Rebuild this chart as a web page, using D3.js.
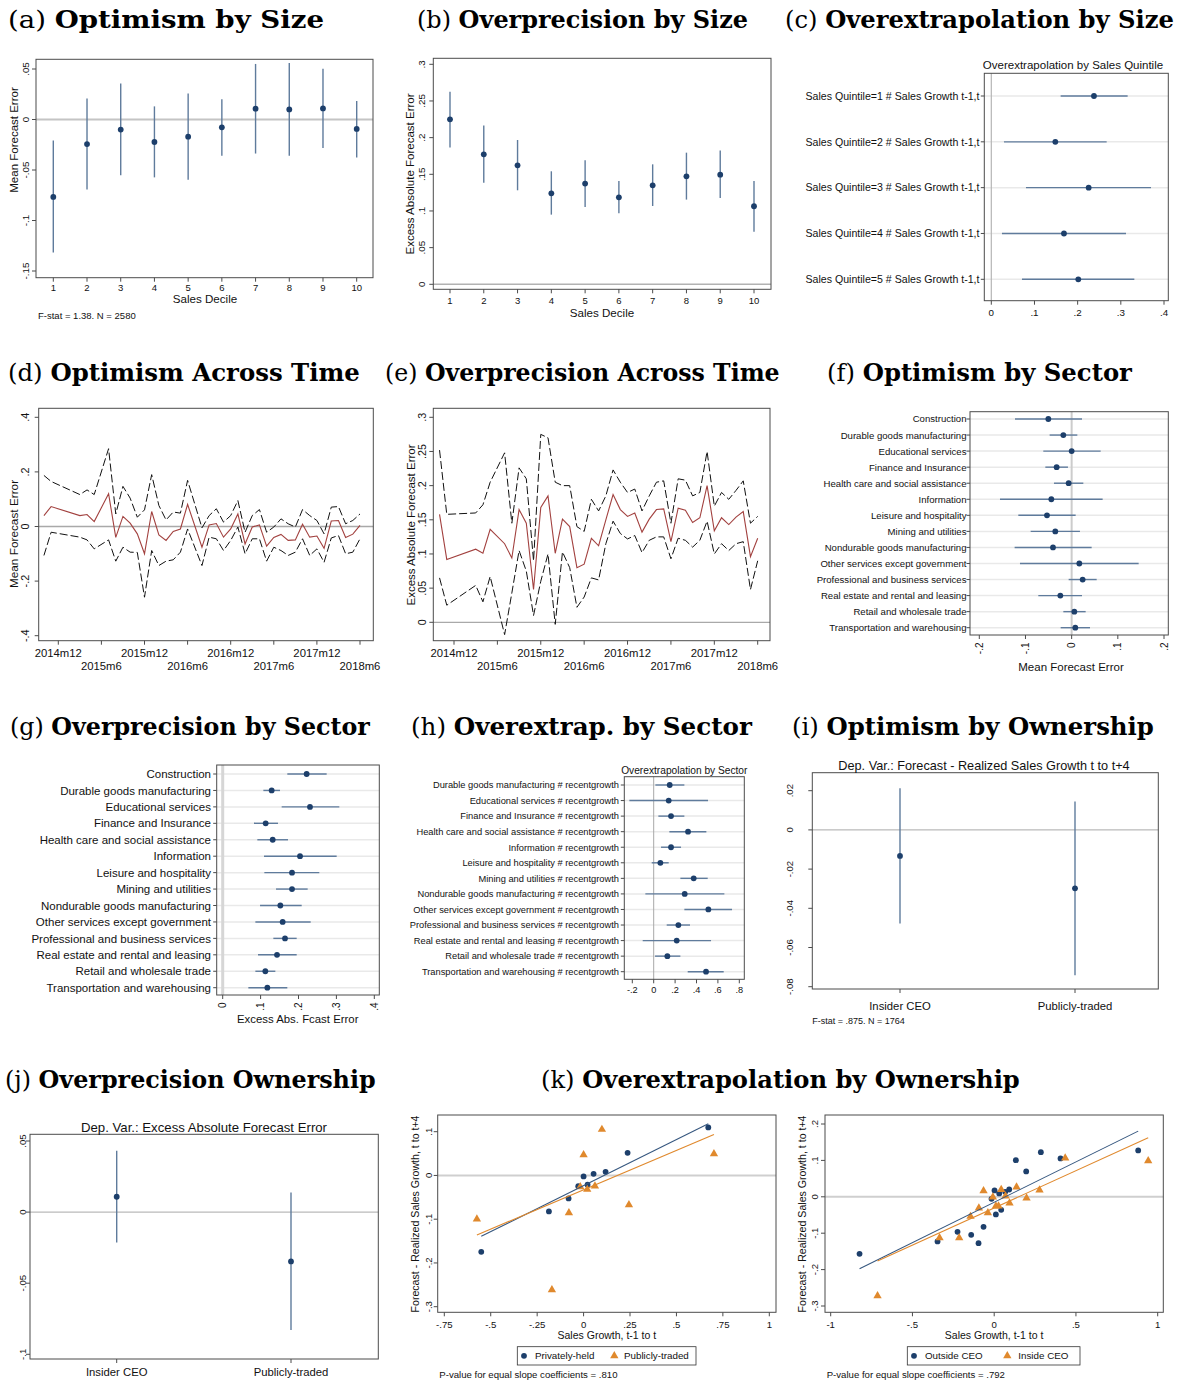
<!DOCTYPE html>
<html>
<head>
<meta charset="utf-8">
<script src="https://cdn.jsdelivr.net/npm/d3@7"></script>
<style>
  html, body { margin: 0; padding: 0; background: #fff; }
  svg { display: block; }
  text { font-family: "Liberation Sans", Arial, Helvetica, sans-serif; fill: #111; }
  .ttl { font-family: "DejaVu Serif", serif; fill: #000; }
</style>
</head>
<body>
<script>
// ---------- (a) optimism by sales decile ----------
const deciles = [1, 2, 3, 4, 5, 6, 7, 8, 9, 10];
const optSizeMean = [-0.0767, -0.0243, -0.0100, -0.0223, -0.0170, -0.0077, 0.0107, 0.0100, 0.0110, -0.0093];
const optSizeLo   = [-0.1317, -0.0693, -0.0553, -0.0573, -0.0597, -0.0360, -0.0337, -0.0360, -0.0283, -0.0377];
const optSizeHi   = [-0.0207, 0.0207, 0.0357, 0.0130, 0.0257, 0.0200, 0.0550, 0.0560, 0.0503, 0.0183];
const optSizeTicks = [0.05, 0, -0.05, -0.1, -0.15];
const optSizeTickLabels = [".05", "0", "-.05", "-.1", "-.15"];

// ---------- (b) overprecision by sales decile ----------
const precSizeMean = [0.2250, 0.1773, 0.1623, 0.1241, 0.1373, 0.1186, 0.1350, 0.1473, 0.1495, 0.1064];
const precSizeLo   = [0.1864, 0.1386, 0.1282, 0.0950, 0.1055, 0.0968, 0.1068, 0.1155, 0.1177, 0.0718];
const precSizeHi   = [0.2627, 0.2164, 0.1968, 0.1541, 0.1691, 0.1409, 0.1636, 0.1795, 0.1823, 0.1409];
const precSizeTicks = [0, 0.05, 0.1, 0.15, 0.2, 0.25, 0.3];
const precSizeTickLabels = ["0", ".05", ".1", ".15", ".2", ".25", ".3"];

// ---------- (c) overextrapolation by sales quintile ----------
const quintileRows = [
  "Sales Quintile=1 # Sales Growth t-1,t",
  "Sales Quintile=2 # Sales Growth t-1,t",
  "Sales Quintile=3 # Sales Growth t-1,t",
  "Sales Quintile=4 # Sales Growth t-1,t",
  "Sales Quintile=5 # Sales Growth t-1,t"
];
const quintileCoef = [0.2378, 0.1483, 0.2255, 0.1683, 0.2015];
const quintileLo   = [0.1606, 0.0293, 0.0803, 0.0247, 0.0710];
const quintileHi   = [0.3158, 0.2672, 0.3699, 0.3120, 0.3313];
const quintileTicks = [0, 0.1, 0.2, 0.3, 0.4];
const quintileTickLabels = ["0", ".1", ".2", ".3", ".4"];

// ---------- (d) optimism across time ----------
const timeTicks = ["2014m12", "2015m6", "2015m12", "2016m6", "2016m12", "2017m6", "2017m12", "2018m6"];
const optTimeMonths = ["2014m10", "2014m11", "2015m3", "2015m4", "2015m5", "2015m7", "2015m8", "2015m9", "2015m10",
  "2015m11", "2015m12", "2016m1", "2016m2", "2016m3", "2016m4", "2016m5", "2016m6", "2016m8", "2016m9", "2016m10",
  "2016m11", "2016m12", "2017m1", "2017m2", "2017m3", "2017m4", "2017m5", "2017m6", "2017m7", "2017m8", "2017m9",
  "2017m10", "2017m11", "2017m12", "2018m1", "2018m2", "2018m3", "2018m4", "2018m5", "2018m6"];
const optTimeMean = [0.040, 0.073, 0.040, 0.044, 0.018, 0.120, -0.040, 0.037, 0.012, -0.027, -0.100, 0.055, -0.031,
  -0.051, -0.018, -0.009, 0.081, -0.076, 0.006, 0.011, -0.039, -0.009, 0.046, -0.064, -0.002, 0.006, -0.072, -0.040,
  -0.029, -0.051, -0.049, 0.008, -0.039, -0.035, -0.080, 0.020, 0.022, -0.040, -0.028, 0.004];
const optTimeUpper = [0.187, 0.165, 0.117, 0.134, 0.117, 0.285, 0.046, 0.147, 0.104, 0.034, 0.061, 0.190, 0.077,
  0.024, 0.053, 0.049, 0.169, -0.005, 0.040, 0.065, 0.016, 0.040, 0.095, -0.021, 0.040, 0.062, -0.021, -0.002,
  0.028, 0.010, -0.002, 0.062, 0.040, 0.022, -0.027, 0.071, 0.073, 0.010, 0.022, 0.046];
const optTimeLower = [-0.106, -0.021, -0.039, -0.049, -0.082, -0.049, -0.127, -0.076, -0.094, -0.095, -0.259, -0.088,
  -0.143, -0.127, -0.122, -0.094, -0.009, -0.143, -0.039, -0.045, -0.088, -0.051, -0.002, -0.100, -0.045, -0.045,
  -0.127, -0.076, -0.088, -0.106, -0.094, -0.045, -0.106, -0.082, -0.131, -0.042, -0.033, -0.100, -0.094, -0.045];
const optTimeTicks = [-0.4, -0.2, 0, 0.2, 0.4];
const optTimeTickLabels = ["-.4", "-.2", "0", ".2", ".4"];

// ---------- (e) overprecision across time ----------
const precTimeMonths = ["2014m10", "2014m11", "2015m3", "2015m4", "2015m5", "2015m7", "2015m8", "2015m9", "2015m10",
  "2015m11", "2015m12", "2016m1", "2016m2", "2016m3", "2016m4", "2016m5", "2016m6", "2016m7", "2016m8", "2016m9",
  "2016m10", "2016m11", "2016m12", "2017m1", "2017m2", "2017m3", "2017m4", "2017m5", "2017m6", "2017m7", "2017m8",
  "2017m9", "2017m10", "2017m11", "2017m12", "2018m1", "2018m2", "2018m3", "2018m4", "2018m5", "2018m6"];
const precTimeMean = [0.158, 0.092, 0.107, 0.101, 0.136, 0.115, 0.094, 0.165, 0.145, 0.048, 0.168, 0.185, 0.101,
  0.151, 0.140, 0.080, 0.085, 0.123, 0.112, 0.150, 0.187, 0.165, 0.155, 0.160, 0.132, 0.151, 0.165, 0.166, 0.118,
  0.167, 0.164, 0.146, 0.153, 0.200, 0.134, 0.153, 0.143, 0.154, 0.162, 0.096, 0.123];
const precTimeUpper = [0.252, 0.158, 0.160, 0.172, 0.205, 0.248, 0.145, 0.226, 0.210, 0.090, 0.275, 0.270, 0.205,
  0.200, 0.200, 0.140, 0.133, 0.180, 0.163, 0.185, 0.223, 0.205, 0.190, 0.195, 0.163, 0.185, 0.205, 0.207, 0.145,
  0.210, 0.208, 0.185, 0.190, 0.250, 0.170, 0.190, 0.180, 0.193, 0.207, 0.145, 0.155];
const precTimeLower = [0.065, 0.025, 0.054, 0.030, 0.067, -0.018, 0.043, 0.105, 0.075, 0.010, 0.060, 0.100, -0.003,
  0.103, 0.080, 0.022, 0.037, 0.065, 0.062, 0.115, 0.148, 0.130, 0.122, 0.127, 0.102, 0.120, 0.125, 0.125, 0.093,
  0.123, 0.120, 0.110, 0.120, 0.148, 0.100, 0.115, 0.105, 0.115, 0.118, 0.048, 0.090];
const precTimeTicks = [0, 0.05, 0.1, 0.15, 0.2, 0.25, 0.3];
const precTimeTickLabels = ["0", ".05", ".1", ".15", ".2", ".25", ".3"];

// ---------- (f), (g), (h) sectors ----------
const sectors = ["Construction", "Durable goods manufacturing", "Educational services", "Finance and Insurance",
  "Health care and social assistance", "Information", "Leisure and hospitality", "Mining and utilities",
  "Nondurable goods manufacturing", "Other services except government", "Professional and business services",
  "Real estate and rental and leasing", "Retail and wholesale trade", "Transportation and warehousing"];
const optSectorMean = [-0.0505, -0.0180, 0.0000, -0.0325, -0.0065, -0.0440, -0.0534, -0.0354, -0.0404, 0.0166, 0.0238, -0.0245, 0.0058, 0.0079];
const optSectorLo   = [-0.1227, -0.0477, -0.0614, -0.0570, -0.0383, -0.1552, -0.1155, -0.0888, -0.1235, -0.1119, -0.0065, -0.0722, -0.0180, -0.0238];
const optSectorHi   = [0.0224, 0.0123, 0.0628, -0.0080, 0.0253, 0.0671, 0.0087, 0.0180, 0.0433, 0.1451, 0.0542, 0.0224, 0.0303, 0.0397];
const optSectorTicks = [-0.2, -0.1, 0, 0.1, 0.2];
const optSectorTickLabels = ["-.2", "-.1", "0", ".1", ".2"];

const precSectorMean = [0.2215, 0.1292, 0.2303, 0.1134, 0.1319, 0.2040, 0.1829, 0.1829, 0.1521, 0.1582, 0.1644, 0.1433, 0.1125, 0.1178];
const precSectorLo   = [0.1705, 0.1073, 0.1556, 0.0826, 0.0914, 0.1090, 0.1099, 0.1407, 0.0985, 0.0862, 0.1336, 0.0932, 0.0862, 0.0677];
const precSectorHi   = [0.2743, 0.1512, 0.3077, 0.1459, 0.1723, 0.3007, 0.2549, 0.2242, 0.2084, 0.2321, 0.1952, 0.1952, 0.1389, 0.1705];
const precSectorTicks = [0, 0.1, 0.2, 0.3, 0.4];
const precSectorTickLabels = ["0", ".1", ".2", ".3", ".4"];

const extrapSectors = sectors.slice(1).map(s => s + " # recentgrowth");
const extrapSectorCoef = [0.1495, 0.1402, 0.1620, 0.3209, 0.1620, 0.0623, 0.3738, 0.2897, 0.5109, 0.2305, 0.2150, 0.1277, 0.4891];
const extrapSectorLo   = [0.0156, -0.2274, 0.0436, 0.1464, 0.0685, -0.0187, 0.2492, -0.0779, 0.2866, 0.1215, -0.1028, 0.0125, 0.3178];
const extrapSectorHi   = [0.2866, 0.5078, 0.2866, 0.4922, 0.2555, 0.1402, 0.5047, 0.6604, 0.7321, 0.3396, 0.5358, 0.2492, 0.6542];
const extrapSectorTicks = [-0.2, 0, 0.2, 0.4, 0.6, 0.8];
const extrapSectorTickLabels = ["-.2", "0", ".2", ".4", ".6", ".8"];

// ---------- (i), (j) ownership ----------
const ownership = ["Insider CEO", "Publicly-traded"];
const optOwnMean = [-0.0133, -0.0298];
const optOwnLo   = [-0.0477, -0.0742];
const optOwnHi   = [0.0213, 0.0145];
const optOwnTicks = [-0.08, -0.06, -0.04, -0.02, 0, 0.02];
const optOwnTickLabels = ["-.08", "-.06", "-.04", "-.02", "0", ".02"];
const precOwnMean = [0.0108, -0.0347];
const precOwnLo   = [-0.0214, -0.0829];
const precOwnHi   = [0.0432, 0.0138];
const precOwnTicks = [-0.1, -0.05, 0, 0.05];
const precOwnTickLabels = ["-.1", "-.05", "0", ".05"];

// ---------- (k) binned scatter: growth vs forecast error ----------
const privGrowth = [-0.551, -0.1867, -0.0808, -0.0287, 0.0000, 0.0215, 0.0539, 0.1185, 0.2370, 0.6715];
const privError  = [-0.1745, -0.0823, -0.0526, -0.0244, -0.0023, -0.0213, 0.0038, 0.0084, 0.0518, 0.1097];
const pubGrowth  = [-0.5745, -0.1706, -0.0790, -0.0180, 0.0000, 0.0197, 0.0610, 0.0987, 0.2442, 0.7020];
const pubError   = [-0.0998, -0.2613, -0.0853, -0.0259, 0.0472, -0.0320, -0.0244, 0.1051, -0.0670, 0.0495];
const privFit = [-0.0230, 0.2106];   // intercept, slope
const pubFit  = [-0.0327, 0.1800];
const k1XTicks = [-0.75, -0.5, -0.25, 0, 0.25, 0.5, 0.75, 1];
const k1XTickLabels = ["-.75", "-.5", "-.25", "0", ".25", ".5", ".75", "1"];
const k1YTicks = [-0.3, -0.2, -0.1, 0, 0.1];
const k1YTickLabels = ["-.3", "-.2", "-.1", "0", ".1"];

const outGrowth = [-0.8236, -0.3466, -0.2243, -0.1407, -0.0958, -0.0652, -0.0163, 0.0020, 0.0102, 0.0306, 0.0428, 0.0673, 0.0917, 0.1325, 0.1957, 0.2854, 0.4057, 0.8807];
const outError  = [-0.1566, -0.1227, -0.0962, -0.1044, -0.1273, -0.0824, -0.0055, 0.0174, -0.0485, 0.0092, -0.0357, 0.0137, 0.0201, 0.1007, 0.0696, 0.1227, 0.1053, 0.1273];
const inGrowth  = [-0.7136, -0.3344, -0.2141, -0.1448, -0.0938, -0.0652, -0.0387, -0.0082, 0.0102, 0.0265, 0.0428, 0.0693, 0.0938, 0.1366, 0.1978, 0.2773, 0.4343, 0.9419];
const inError   = [-0.2720, -0.1126, -0.1126, -0.0540, -0.0311, 0.0165, -0.0440, -0.0009, -0.0256, -0.0256, 0.0201, 0.0018, -0.0174, 0.0266, -0.0037, 0.0183, 0.1062, 0.0989];
const outFit = [-0.0150, 0.2219];
const inFit  = [-0.0306, 0.2047];
const k2XTicks = [-1, -0.5, 0, 0.5, 1];
const k2XTickLabels = ["-1", "-.5", "0", ".5", "1"];
const k2YTicks = [-0.3, -0.2, -0.1, 0, 0.1, 0.2];
const k2YTickLabels = ["-.3", "-.2", "-.1", "0", ".1", ".2"];

// ---------- drawing ----------
const C = {
  navy: "#1d3f6b", ci: "#5f7b9c", frame: "#4b4b4b", grid: "#e9e9e9",
  orange: "#e0892d", fitBlue: "#36577f", maroon: "#a2413f"
};

const svg = d3.select("body").append("svg")
  .attr("width", 1181).attr("height", 1382)
  .style("background", "#fff");

function label(x, y, s, size, anchor) {
  return svg.append("text").attr("x", x).attr("y", y)
    .attr("font-size", size).attr("text-anchor", anchor || "start").text(s);
}
// vertical text (reads bottom to top), glyph body centred on cx
function rotLabel(cx, cy, s, size, anchor) {
  return svg.append("text")
    .attr("transform", `translate(${cx + 0.36 * size},${cy}) rotate(-90)`)
    .attr("font-size", size).attr("text-anchor", anchor || "middle").text(s);
}
function frame(b) {
  svg.append("rect").attr("x", b.l).attr("y", b.t)
    .attr("width", b.r - b.l).attr("height", b.b - b.t)
    .attr("fill", "none").attr("stroke", C.frame).attr("stroke-width", 1);
}
function hRef(b, y, color, w) {
  svg.append("line").attr("x1", b.l).attr("x2", b.r).attr("y1", y).attr("y2", y)
    .attr("stroke", color).attr("stroke-width", w);
}
function vRef(b, x, color, w) {
  svg.append("line").attr("x1", x).attr("x2", x).attr("y1", b.t).attr("y2", b.b)
    .attr("stroke", color).attr("stroke-width", w);
}
function yAxisRot(b, y, vals, labels, size, cx) {
  const g = svg.append("g");
  g.selectAll("line").data(vals).join("line")
    .attr("x1", b.l - 4).attr("x2", b.l).attr("y1", d => y(d)).attr("y2", d => y(d))
    .attr("stroke", C.frame).attr("stroke-width", 1);
  vals.forEach((v, i) => rotLabel(cx, y(v), labels[i], size));
}
function xAxis(b, x, vals, labels, size, baseY) {
  const g = svg.append("g");
  g.selectAll("line").data(vals).join("line")
    .attr("x1", d => x(d)).attr("x2", d => x(d)).attr("y1", b.b).attr("y2", b.b + 4)
    .attr("stroke", C.frame).attr("stroke-width", 1);
  g.selectAll("text").data(vals).join("text")
    .attr("x", d => x(d)).attr("y", baseY).attr("font-size", size)
    .attr("text-anchor", "middle").text((d, i) => labels[i]);
}
function xAxisRot(b, x, vals, labels, size) {
  const g = svg.append("g");
  g.selectAll("line").data(vals).join("line")
    .attr("x1", d => x(d)).attr("x2", d => x(d)).attr("y1", b.b).attr("y2", b.b + 4)
    .attr("stroke", C.frame).attr("stroke-width", 1);
  vals.forEach((v, i) => rotLabel(x(v), b.b + 7.5, labels[i], size, "end"));
}
function rowAxis(b, y, rows, size, endX) {
  const g = svg.append("g");
  g.selectAll("line.grid").data(rows).join("line").attr("class", "grid")
    .attr("x1", b.l).attr("x2", b.r).attr("y1", d => y(d)).attr("y2", d => y(d))
    .attr("stroke", C.grid).attr("stroke-width", 1.5);
  g.selectAll("line.tk").data(rows).join("line").attr("class", "tk")
    .attr("x1", b.l - 3.5).attr("x2", b.l).attr("y1", d => y(d)).attr("y2", d => y(d))
    .attr("stroke", C.frame).attr("stroke-width", 1);
  g.selectAll("text").data(rows).join("text")
    .attr("x", endX).attr("y", d => y(d) + 0.36 * size).attr("font-size", size)
    .attr("text-anchor", "end").text(d => d);
}
function vDots(cats, mean, lo, hi, x, y) {
  const g = svg.append("g");
  g.selectAll("line").data(cats).join("line")
    .attr("x1", d => x(d)).attr("x2", d => x(d))
    .attr("y1", (d, i) => y(lo[i])).attr("y2", (d, i) => y(hi[i]))
    .attr("stroke", C.ci).attr("stroke-width", 1.4);
  g.selectAll("circle").data(cats).join("circle")
    .attr("cx", d => x(d)).attr("cy", (d, i) => y(mean[i])).attr("r", 2.9)
    .attr("fill", C.navy);
}
function hDots(rows, mean, lo, hi, x, y) {
  const g = svg.append("g");
  g.selectAll("line").data(rows).join("line")
    .attr("y1", d => y(d)).attr("y2", d => y(d))
    .attr("x1", (d, i) => x(lo[i])).attr("x2", (d, i) => x(hi[i]))
    .attr("stroke", C.ci).attr("stroke-width", 1.4);
  g.selectAll("circle").data(rows).join("circle")
    .attr("cy", d => y(d)).attr("cx", (d, i) => x(mean[i])).attr("r", 2.9)
    .attr("fill", C.navy);
}
const monthIndex = s => { const [yy, mm] = s.split("m").map(Number); return (yy - 2014) * 12 + mm - 12; };

// panel headings: "(x)" regular followed by a bold name, stretched to its slot
const titles = [
  { tag: "(a)", name: "Optimism by Size", x: 8, y: 28, w: 316 },
  { tag: "(b)", name: "Overprecision by Size", x: 417, y: 28, w: 331 },
  { tag: "(c)", name: "Overextrapolation by Size", x: 785, y: 28, w: 389 },
  { tag: "(d)", name: "Optimism Across Time", x: 8, y: 381, w: 352 },
  { tag: "(e)", name: "Overprecision Across Time", x: 385, y: 381, w: 395 },
  { tag: "(f)", name: "Optimism by Sector", x: 827, y: 381, w: 305 },
  { tag: "(g)", name: "Overprecision by Sector", x: 10, y: 735, w: 360 },
  { tag: "(h)", name: "Overextrap. by Sector", x: 411, y: 735, w: 341 },
  { tag: "(i)", name: "Optimism by Ownership", x: 792, y: 735, w: 362 },
  { tag: "(j)", name: "Overprecision Ownership", x: 5, y: 1088, w: 371 },
  { tag: "(k)", name: "Overextrapolation by Ownership", x: 541, y: 1088, w: 479 }
];
titles.forEach(t => {
  const el = svg.append("text").attr("class", "ttl").attr("font-size", 24);
  el.append("tspan").text(t.tag + " ");
  el.append("tspan").attr("font-weight", "bold").text(t.name);
  const len = el.node().getComputedTextLength();
  el.attr("transform", `translate(${t.x},${t.y}) scale(${t.w / len},1)`);
});

// (a)
{
  const b = { l: 36, t: 59.3, r: 373, b: 277.7 };
  const x = d3.scaleLinear().domain([1, 10]).range([53.3, 356.7]);
  const y = d3.scaleLinear().domain([0.05, -0.15]).range([69, 271]);
  hRef(b, y(0), "#c4c4c4", 1.8);
  vDots(deciles, optSizeMean, optSizeLo, optSizeHi, x, y);
  frame(b);
  yAxisRot(b, y, optSizeTicks, optSizeTickLabels, 9.8, 25.5);
  xAxis(b, x, deciles, deciles.map(String), 9.5, 290.5);
  label(205, 303, "Sales Decile", 11.6, "middle");
  rotLabel(14, 140, "Mean Forecast Error", 11.5);
  label(38, 318.5, "F-stat = 1.38. N = 2580", 9.5);
}

// (b)
{
  const b = { l: 433.3, t: 58.3, r: 771, b: 289.3 };
  const x = d3.scaleLinear().domain([1, 10]).range([450, 754]);
  const y = d3.scaleLinear().domain([0.3, 0]).range([64.3, 284.3]);
  hRef(b, y(0), "#b2b2b2", 1.5);
  vDots(deciles, precSizeMean, precSizeLo, precSizeHi, x, y);
  frame(b);
  yAxisRot(b, y, precSizeTicks, precSizeTickLabels, 9.8, 421.7);
  xAxis(b, x, deciles, deciles.map(String), 9.5, 303.5);
  label(602, 316.5, "Sales Decile", 11.6, "middle");
  rotLabel(410, 174, "Excess Absolute Forecast Error", 11.5);
}

// (c)
{
  const b = { l: 984.3, t: 73.3, r: 1168.3, b: 300.7 };
  const x = d3.scaleLinear().domain([0, 0.4]).range([991.3, 1164]);
  const y = d3.scalePoint().domain(quintileRows).range([96, 279.3]);
  rowAxis(b, y, quintileRows, 10.6, 979.5);
  vRef(b, x(0), "#b5b5b5", 1.2);
  hDots(quintileRows, quintileCoef, quintileLo, quintileHi, x, y);
  frame(b);
  xAxis(b, x, quintileTicks, quintileTickLabels, 9.8, 315.5);
  label(1073, 69, "Overextrapolation by Sales Quintile", 11.5, "middle");
}

// (d) and (e): monthly series with confidence bands
function timePanel(b, xr, yDom, yRng, months, mean, upper, lower, ticks, tickLabels, yCx, yTitle, titleCy) {
  const x = d3.scaleLinear().domain([monthIndex(timeTicks[0]), monthIndex(timeTicks[timeTicks.length - 1])]).range(xr);
  const y = d3.scaleLinear().domain(yDom).range(yRng);
  hRef(b, y(0), "#a9a9a9", 1.3);
  const line = arr => d3.line().x((d, i) => x(monthIndex(months[i]))).y(d => y(d))(arr);
  svg.append("path").attr("d", line(upper)).attr("fill", "none").attr("stroke", "#111")
    .attr("stroke-width", 1).attr("stroke-dasharray", "8,3");
  svg.append("path").attr("d", line(lower)).attr("fill", "none").attr("stroke", "#111")
    .attr("stroke-width", 1).attr("stroke-dasharray", "8,3");
  svg.append("path").attr("d", line(mean)).attr("fill", "none").attr("stroke", C.maroon)
    .attr("stroke-width", 1.1);
  frame(b);
  yAxisRot(b, y, ticks, tickLabels, 10.8, yCx);
  const tv = timeTicks.map(monthIndex);
  const g = svg.append("g");
  g.selectAll("line").data(tv).join("line")
    .attr("x1", d => x(d)).attr("x2", d => x(d)).attr("y1", b.b).attr("y2", b.b + 4)
    .attr("stroke", C.frame);
  g.selectAll("text").data(tv).join("text")
    .attr("x", d => x(d)).attr("y", (d, i) => i % 2 === 0 ? b.b + 16 : b.b + 29.5)
    .attr("font-size", 11.3).attr("text-anchor", "middle").text((d, i) => timeTicks[i]);
  rotLabel(yCx - 11 + (yTitle.length > 20 ? 0 : 0), titleCy, yTitle, yTitle.length > 20 ? 11.5 : 11.8);
}
timePanel({ l: 38.7, t: 408.3, r: 373.3, b: 640.7 }, [58.3, 360], [0.4, -0.4], [417.3, 635.7],
  optTimeMonths, optTimeMean, optTimeUpper, optTimeLower, optTimeTicks, optTimeTickLabels, 25, "Mean Forecast Error", 534);
timePanel({ l: 433.3, t: 408.3, r: 770, b: 640.7 }, [454, 757.7], [0.3, 0], [417.3, 622.3],
  precTimeMonths, precTimeMean, precTimeUpper, precTimeLower, precTimeTicks, precTimeTickLabels, 421.7, "Excess Absolute Forecast Error", 525);

// (f)
{
  const b = { l: 970, t: 411.7, r: 1168.3, b: 635 };
  const x = d3.scaleLinear().domain([-0.2, 0.2]).range([979.3, 1164]);
  const y = d3.scalePoint().domain(sectors).range([419, 627.7]);
  rowAxis(b, y, sectors, 9.6, 966.5);
  vRef(b, x(0), "#cccccc", 2);
  hDots(sectors, optSectorMean, optSectorLo, optSectorHi, x, y);
  frame(b);
  xAxisRot(b, x, optSectorTicks, optSectorTickLabels, 10);
  label(1071, 670.5, "Mean Forecast Error", 11.5, "middle");
}

// (g)
{
  const b = { l: 216.7, t: 765, r: 379.3, b: 995 };
  const x = d3.scaleLinear().domain([0, 0.4]).range([222.7, 374.3]);
  const y = d3.scalePoint().domain(sectors).range([774, 987.7]);
  rowAxis(b, y, sectors, 11.5, 211);
  vRef(b, x(0), "#d6d6d6", 3);
  hDots(sectors, precSectorMean, precSectorLo, precSectorHi, x, y);
  frame(b);
  xAxisRot(b, x, precSectorTicks, precSectorTickLabels, 10);
  label(297.7, 1022.5, "Excess Abs. Fcast Error", 11.4, "middle");
}

// (h)
{
  const b = { l: 624.3, t: 776.7, r: 744.3, b: 979.3 };
  const x = d3.scaleLinear().domain([-0.2, 0.8]).range([632.3, 739.3]);
  const y = d3.scalePoint().domain(extrapSectors).range([785, 971.7]);
  rowAxis(b, y, extrapSectors, 9.3, 619);
  vRef(b, x(0), "#a8a8a8", 1);
  hDots(extrapSectors, extrapSectorCoef, extrapSectorLo, extrapSectorHi, x, y);
  frame(b);
  xAxis(b, x, extrapSectorTicks, extrapSectorTickLabels, 9.2, 992.5);
  label(684.3, 774, "Overextrapolation by Sector", 10.2, "middle");
}

// (i)
{
  const b = { l: 812.3, t: 772.7, r: 1158.3, b: 989 };
  const x = d3.scalePoint().domain(ownership).range([900, 1075]);
  const y = d3.scaleLinear().domain([0.02, -0.08]).range([790.7, 986.7]);
  hRef(b, y(0), "#a8a8a8", 1);
  vDots(ownership, optOwnMean, optOwnLo, optOwnHi, x, y);
  frame(b);
  yAxisRot(b, y, optOwnTicks, optOwnTickLabels, 9.6, 789.5);
  xAxis(b, x, ownership, ownership, 11.3, 1009.5);
  label(984, 769.5, "Dep. Var.: Forecast - Realized Sales Growth t to t+4", 12.7, "middle");
  label(812.3, 1023.5, "F-stat = .875. N = 1764", 9);
}

// (j)
{
  const b = { l: 30, t: 1134.3, r: 378.3, b: 1359 };
  const x = d3.scalePoint().domain(ownership).range([116.7, 291]);
  const y = d3.scaleLinear().domain([0.05, -0.1]).range([1141, 1354.3]);
  hRef(b, y(0), "#a8a8a8", 1);
  vDots(ownership, precOwnMean, precOwnLo, precOwnHi, x, y);
  frame(b);
  yAxisRot(b, y, precOwnTicks, precOwnTickLabels, 9.6, 22.5);
  xAxis(b, x, ownership, ownership, 11.3, 1375.5);
  label(204, 1131.5, "Dep. Var.: Excess Absolute Forecast Error", 13.2, "middle");
}

// (k) scatter panels
function scatterPanel(cfg) {
  const b = cfg.box;
  const x = d3.scaleLinear().domain(cfg.xDom).range(cfg.xRng);
  const y = d3.scaleLinear().domain(cfg.yDom).range(cfg.yRng);
  hRef(b, y(0), "#cfcfcf", 2);
  const tri = d3.symbol().type(d3.symbolTriangle).size(30);
  const groups = [
    { gx: cfg.g1x, gy: cfg.g1y, fit: cfg.fit1, color: C.fitBlue, fill: C.navy, shape: "circle" },
    { gx: cfg.g2x, gy: cfg.g2y, fit: cfg.fit2, color: C.orange, fill: C.orange, shape: "tri" }
  ];
  groups.forEach(gr => {
    const g = svg.append("g");
    if (gr.shape === "circle") {
      g.selectAll("circle").data(gr.gx).join("circle")
        .attr("cx", d => x(d)).attr("cy", (d, i) => y(gr.gy[i])).attr("r", 2.9).attr("fill", gr.fill);
    } else {
      g.selectAll("path").data(gr.gx).join("path").attr("d", tri)
        .attr("transform", (d, i) => `translate(${x(d)},${y(gr.gy[i])})`).attr("fill", gr.fill);
    }
  });
  groups.forEach(gr => {
    const [x0, x1] = d3.extent(gr.gx);
    svg.append("line")
      .attr("x1", x(x0)).attr("y1", y(gr.fit[0] + gr.fit[1] * x0))
      .attr("x2", x(x1)).attr("y2", y(gr.fit[0] + gr.fit[1] * x1))
      .attr("stroke", gr.color).attr("stroke-width", 1.1);
  });
  frame(b);
  yAxisRot(b, y, cfg.yTicks, cfg.yLabels, 9.6, cfg.yCx);
  xAxis(b, x, cfg.xTicks, cfg.xLabels, 9.6, 1327.5);
  label((b.l + b.r) / 2 + cfg.xTitleDx, 1339, "Sales Growth, t-1 to t", 10.5, "middle");
  rotLabel(cfg.yTitleCx, 1214, "Forecast - Realized Sales Growth, t to t+4", 10.6);
  // legend
  const lg = cfg.legend;
  svg.append("rect").attr("x", lg.l).attr("y", 1346.7).attr("width", lg.r - lg.l).attr("height", 18.3)
    .attr("fill", "#fff").attr("stroke", "#333").attr("stroke-width", 0.8);
  svg.append("circle").attr("cx", lg.m1).attr("cy", 1355.8).attr("r", 2.9).attr("fill", C.navy);
  label(lg.t1, 1359.3, lg.n1, 9.8);
  svg.append("path").attr("d", tri).attr("transform", `translate(${lg.m2},${1355.8})`).attr("fill", C.orange);
  label(lg.t2, 1359.3, lg.n2, 9.8);
  label(cfg.noteX, 1377.5, cfg.note, 9.6);
}
scatterPanel({
  box: { l: 437.7, t: 1115, r: 776, b: 1312.3 },
  xDom: [-0.75, 1], xRng: [444.3, 769.3], yDom: [0.1, -0.3], yRng: [1131.7, 1306.7],
  g1x: privGrowth, g1y: privError, fit1: privFit, g2x: pubGrowth, g2y: pubError, fit2: pubFit,
  xTicks: k1XTicks, xLabels: k1XTickLabels, yTicks: k1YTicks, yLabels: k1YTickLabels,
  yCx: 428.3, yTitleCx: 415, xTitleDx: 0,
  legend: { l: 517.3, r: 696, m1: 524, t1: 535, n1: "Privately-held", m2: 614.3, t2: 624, n2: "Publicly-traded" },
  noteX: 439.3, note: "P-value for equal slope coefficients = .810"
});
scatterPanel({
  box: { l: 825, t: 1115, r: 1163.3, b: 1312.3 },
  xDom: [-1, 1], xRng: [830.7, 1157.7], yDom: [0.2, -0.3], yRng: [1124, 1306],
  g1x: outGrowth, g1y: outError, fit1: outFit, g2x: inGrowth, g2y: inError, fit2: inFit,
  xTicks: k2XTicks, xLabels: k2XTickLabels, yTicks: k2YTicks, yLabels: k2YTickLabels,
  yCx: 815, yTitleCx: 801.7, xTitleDx: 0,
  legend: { l: 907.3, r: 1080, m1: 914, t1: 925, n1: "Outside CEO", m2: 1007.3, t2: 1018.3, n2: "Inside CEO" },
  noteX: 826.7, note: "P-value for equal slope coefficients = .792"
});
</script>
</body>
</html>
